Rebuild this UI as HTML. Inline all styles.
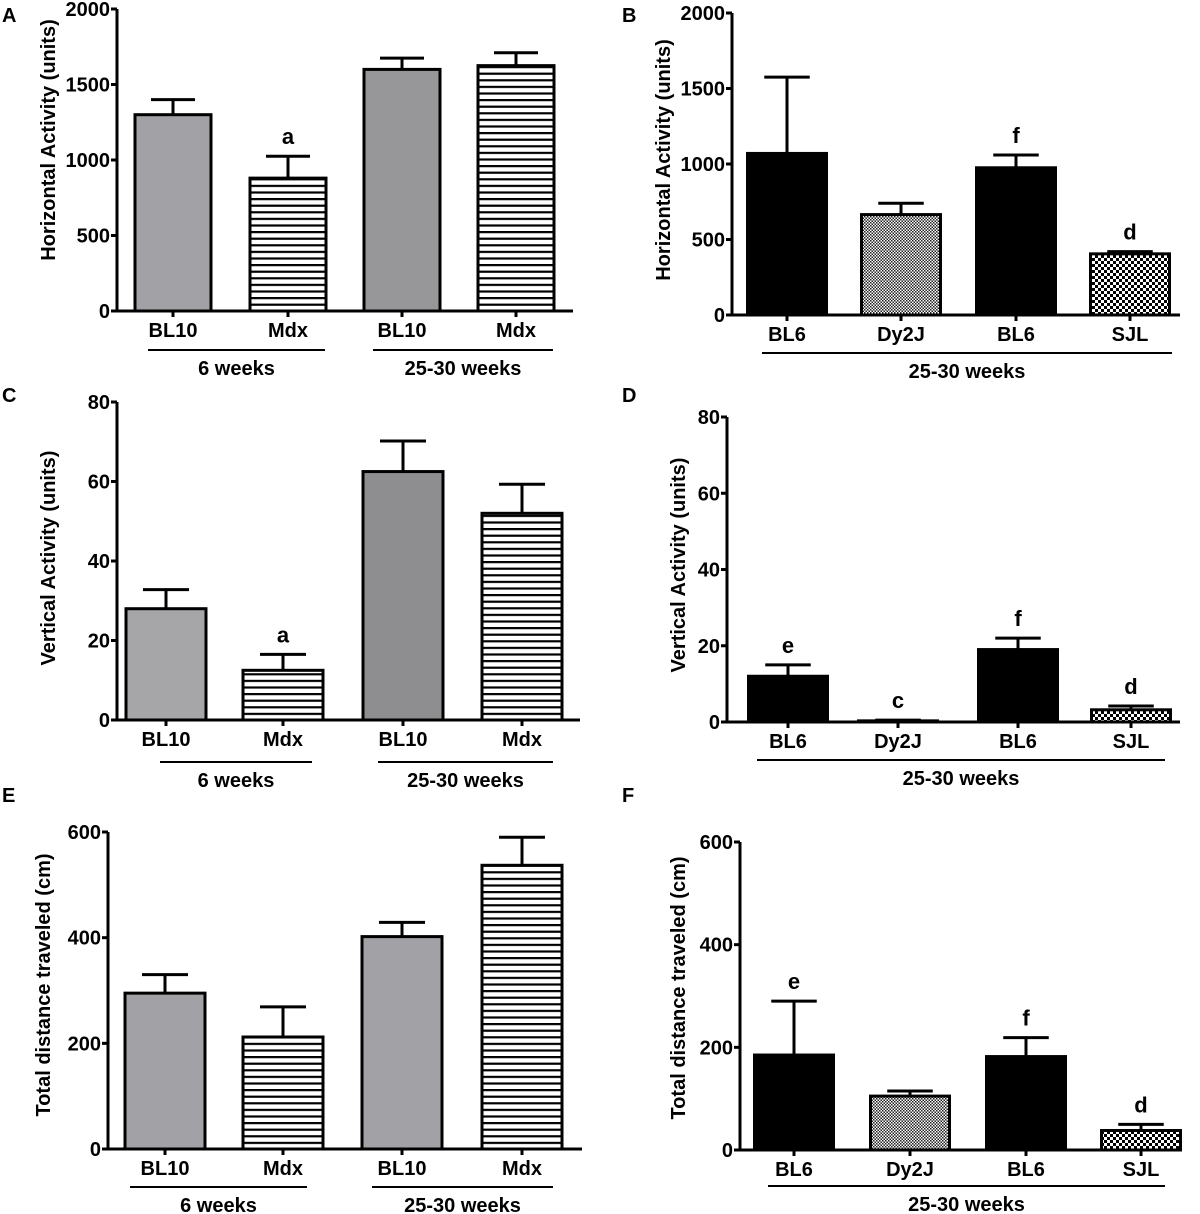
<!DOCTYPE html>
<html><head><meta charset="utf-8"><style>
html,body{margin:0;padding:0;background:#fff}
svg{display:block;font-family:"Liberation Sans",Arial,sans-serif;font-weight:bold}
</style></head><body>
<svg id="fig" width="1200" height="1214" viewBox="0 0 1200 1214" xmlns="http://www.w3.org/2000/svg">
<defs>
<pattern id="stripes" patternUnits="userSpaceOnUse" width="8" height="6.6"><rect width="8" height="6.6" fill="#fff"/><rect y="0" width="8" height="2.2" fill="#000"/></pattern>
<pattern id="fine" patternUnits="userSpaceOnUse" width="3" height="3"><rect width="3" height="3" fill="#fff"/><rect width="1.5" height="1.5" fill="#222"/><rect x="1.5" y="1.5" width="1.5" height="1.5" fill="#222"/></pattern>
<pattern id="coarse" patternUnits="userSpaceOnUse" width="6" height="6"><rect width="6" height="6" fill="#fff"/><rect width="3" height="3" fill="#000"/><rect x="3" y="3" width="3" height="3" fill="#000"/></pattern>
</defs>
</svg>
<script>
// Panel A
const catsA = ["BL10","Mdx","BL10","Mdx"];
const valsA = [1300,880,1600,1625];
const errsA = [100,145,75,85];
const ticksA = [0,500,1000,1500,2000];
const lettersA = ["","a","",""];
// Panel B
const catsB = ["BL6","Dy2J","BL6","SJL"];
const valsB = [1070,665,975,405];
const errsB = [505,75,85,15];
const ticksB = [0,500,1000,1500,2000];
const lettersB = ["","","f","d"];
// Panel C
const catsC = ["BL10","Mdx","BL10","Mdx"];
const valsC = [28,12.5,62.5,52];
const errsC = [4.8,4,7.7,7.3];
const ticksC = [0,20,40,60,80];
const lettersC = ["","a","",""];
// Panel D
const catsD = ["BL6","Dy2J","BL6","SJL"];
const valsD = [12,0.3,19,3.2];
const errsD = [3,0.2,3,1];
const ticksD = [0,20,40,60,80];
const lettersD = ["e","c","f","d"];
// Panel E
const catsE = ["BL10","Mdx","BL10","Mdx"];
const valsE = [295,212,402,537];
const errsE = [35,57,27,53];
const ticksE = [0,200,400,600];
const lettersE = ["","","",""];
// Panel F
const catsF = ["BL6","Dy2J","BL6","SJL"];
const valsF = [185,105,182,38];
const errsF = [105,10,37,12];
const ticksF = [0,200,400,600];
const lettersF = ["e","","f","d"];

const NS="http://www.w3.org/2000/svg";
const svg=document.getElementById('fig');
function el(tag,attrs,parent,text){const e=document.createElementNS(NS,tag);for(const k in attrs)e.setAttribute(k,attrs[k]);if(text!==undefined)e.textContent=text;(parent||svg).appendChild(e);return e;}

const fillsMdx=["#a2a2a6","url(#stripes)","#979799","url(#stripes)"];
const fillsDy=["#000","url(#fine)","#000","url(#coarse)"];

function panel(p){
  const g=el('g',{});  
  const y=v=>p.y0-(v/p.max)*(p.y0-p.yTop);
  const t=el('text',{x:p.lx,y:p.ly,'font-size':20},g,p.id);  
  const ya=el('line',{x1:p.ax,y1:p.yTop,x2:p.ax,y2:p.y0,stroke:'#000','stroke-width':3},g);  
  const xa=el('line',{x1:p.ax,y1:p.y0,x2:p.axEnd,y2:p.y0,stroke:'#000','stroke-width':3},g);  
  p.ticks.forEach(tv=>{
    el('line',{x1:p.ax-6,y1:y(tv),x2:p.ax,y2:y(tv),stroke:'#000','stroke-width':3},g);
    const tl=el('text',{x:p.ax-7,y:y(tv)+7,'font-size':20,'text-anchor':'end'},g,tv);
     
  });
  const yt=el('text',{x:0,y:0,'font-size':20,'text-anchor':'middle',transform:`translate(${p.tx},${p.ty}) rotate(-90)`},g,p.title);
   
  p.cats.forEach((c,i)=>{
    const cx=p.cx[i], w=p.bw, top=y(p.vals[i]);
    el('line',{x1:cx,y1:p.y0,x2:cx,y2:p.y0+6,stroke:'#000','stroke-width':3},g);
    const et=y(p.vals[i]+p.errs[i]);
    const ev=el('line',{x1:cx,y1:top,x2:cx,y2:et,stroke:'#000','stroke-width':3},g);  
    el('line',{x1:cx-w/4-3,y1:et,x2:cx+w/4+3,y2:et,stroke:'#000','stroke-width':3},g);
    const b=el('rect',{x:cx-w/2,y:top,width:w,height:Math.max(p.y0-top,0.5),fill:p.fills[i],stroke:'#000','stroke-width':3},g);
     
    const cl=el('text',{x:cx,y:p.y0+26,'font-size':20,'text-anchor':'middle'},g,c);
     
    if(p.letters[i]){const lt=el('text',{x:cx,y:et-12,'font-size':22,'text-anchor':'middle'},g,p.letters[i]);  }
  });
  p.groups.forEach(gr=>{
    el('line',{x1:gr[0],y1:p.gy,x2:gr[1],y2:p.gy,stroke:'#000','stroke-width':2},g);
    const gl=el('text',{x:(gr[0]+gr[1])/2,y:p.gy+25,'font-size':20,'text-anchor':'middle'},g,gr[2]);
     
  });
}
panel({id:'A',lx:2,ly:22,ax:117,axEnd:573,y0:311,yTop:9,max:2000,ticks:ticksA,cats:catsA,vals:valsA,errs:errsA,letters:lettersA,cx:[173,288,402,516],bw:76,fills:fillsMdx,title:'Horizontal Activity (units)',tx:55,ty:140,gy:350,groups:[[148,325,'6 weeks'],[373,553,'25-30 weeks']]});
panel({id:'B',lx:622,ly:22,ax:732,axEnd:1180,y0:315,yTop:13,max:2000,ticks:ticksB,cats:catsB,vals:valsB,errs:errsB,letters:lettersB,cx:[787,901,1016,1130],bw:79,fills:fillsDy,title:'Horizontal Activity (units)',tx:670,ty:160,gy:353,groups:[[762,1172,'25-30 weeks']]});
panel({id:'C',lx:2,ly:402,ax:117,axEnd:580,y0:720,yTop:402,max:80,ticks:ticksC,cats:catsC,vals:valsC,errs:errsC,letters:lettersC,cx:[166,283,403,522],bw:80,fills:["#a6a6a8","url(#stripes)","#8e8e90","url(#stripes)"],title:'Vertical Activity (units)',tx:55,ty:558,gy:762,groups:[[160,312,'6 weeks'],[378,553,'25-30 weeks']]});
panel({id:'D',lx:622,ly:402,ax:727,axEnd:1180,y0:722,yTop:417,max:80,ticks:ticksD,cats:catsD,vals:valsD,errs:errsD,letters:lettersD,cx:[788,898,1018,1131],bw:79,fills:fillsDy,title:'Vertical Activity (units)',tx:685,ty:565,gy:760,groups:[[757,1165,'25-30 weeks']]});
panel({id:'E',lx:2,ly:802,ax:108,axEnd:582,y0:1149,yTop:832,max:600,ticks:ticksE,cats:catsE,vals:valsE,errs:errsE,letters:lettersE,cx:[165,283,402,522],bw:80,fills:["#a2a2a6","url(#stripes)","#a2a2a6","url(#stripes)"],title:'Total distance traveled (cm)',tx:50,ty:985,gy:1187,groups:[[130,307,'6 weeks'],[372,553,'25-30 weeks']]});
panel({id:'F',lx:622,ly:802,ax:740,axEnd:1180,y0:1150,yTop:842,max:600,ticks:ticksF,cats:catsF,vals:valsF,errs:errsF,letters:lettersF,cx:[794,910,1026,1141],bw:79,fills:fillsDy,title:'Total distance traveled (cm)',tx:685,ty:988,gy:1186,groups:[[768,1165,'25-30 weeks']]});
</script>
</body></html>
